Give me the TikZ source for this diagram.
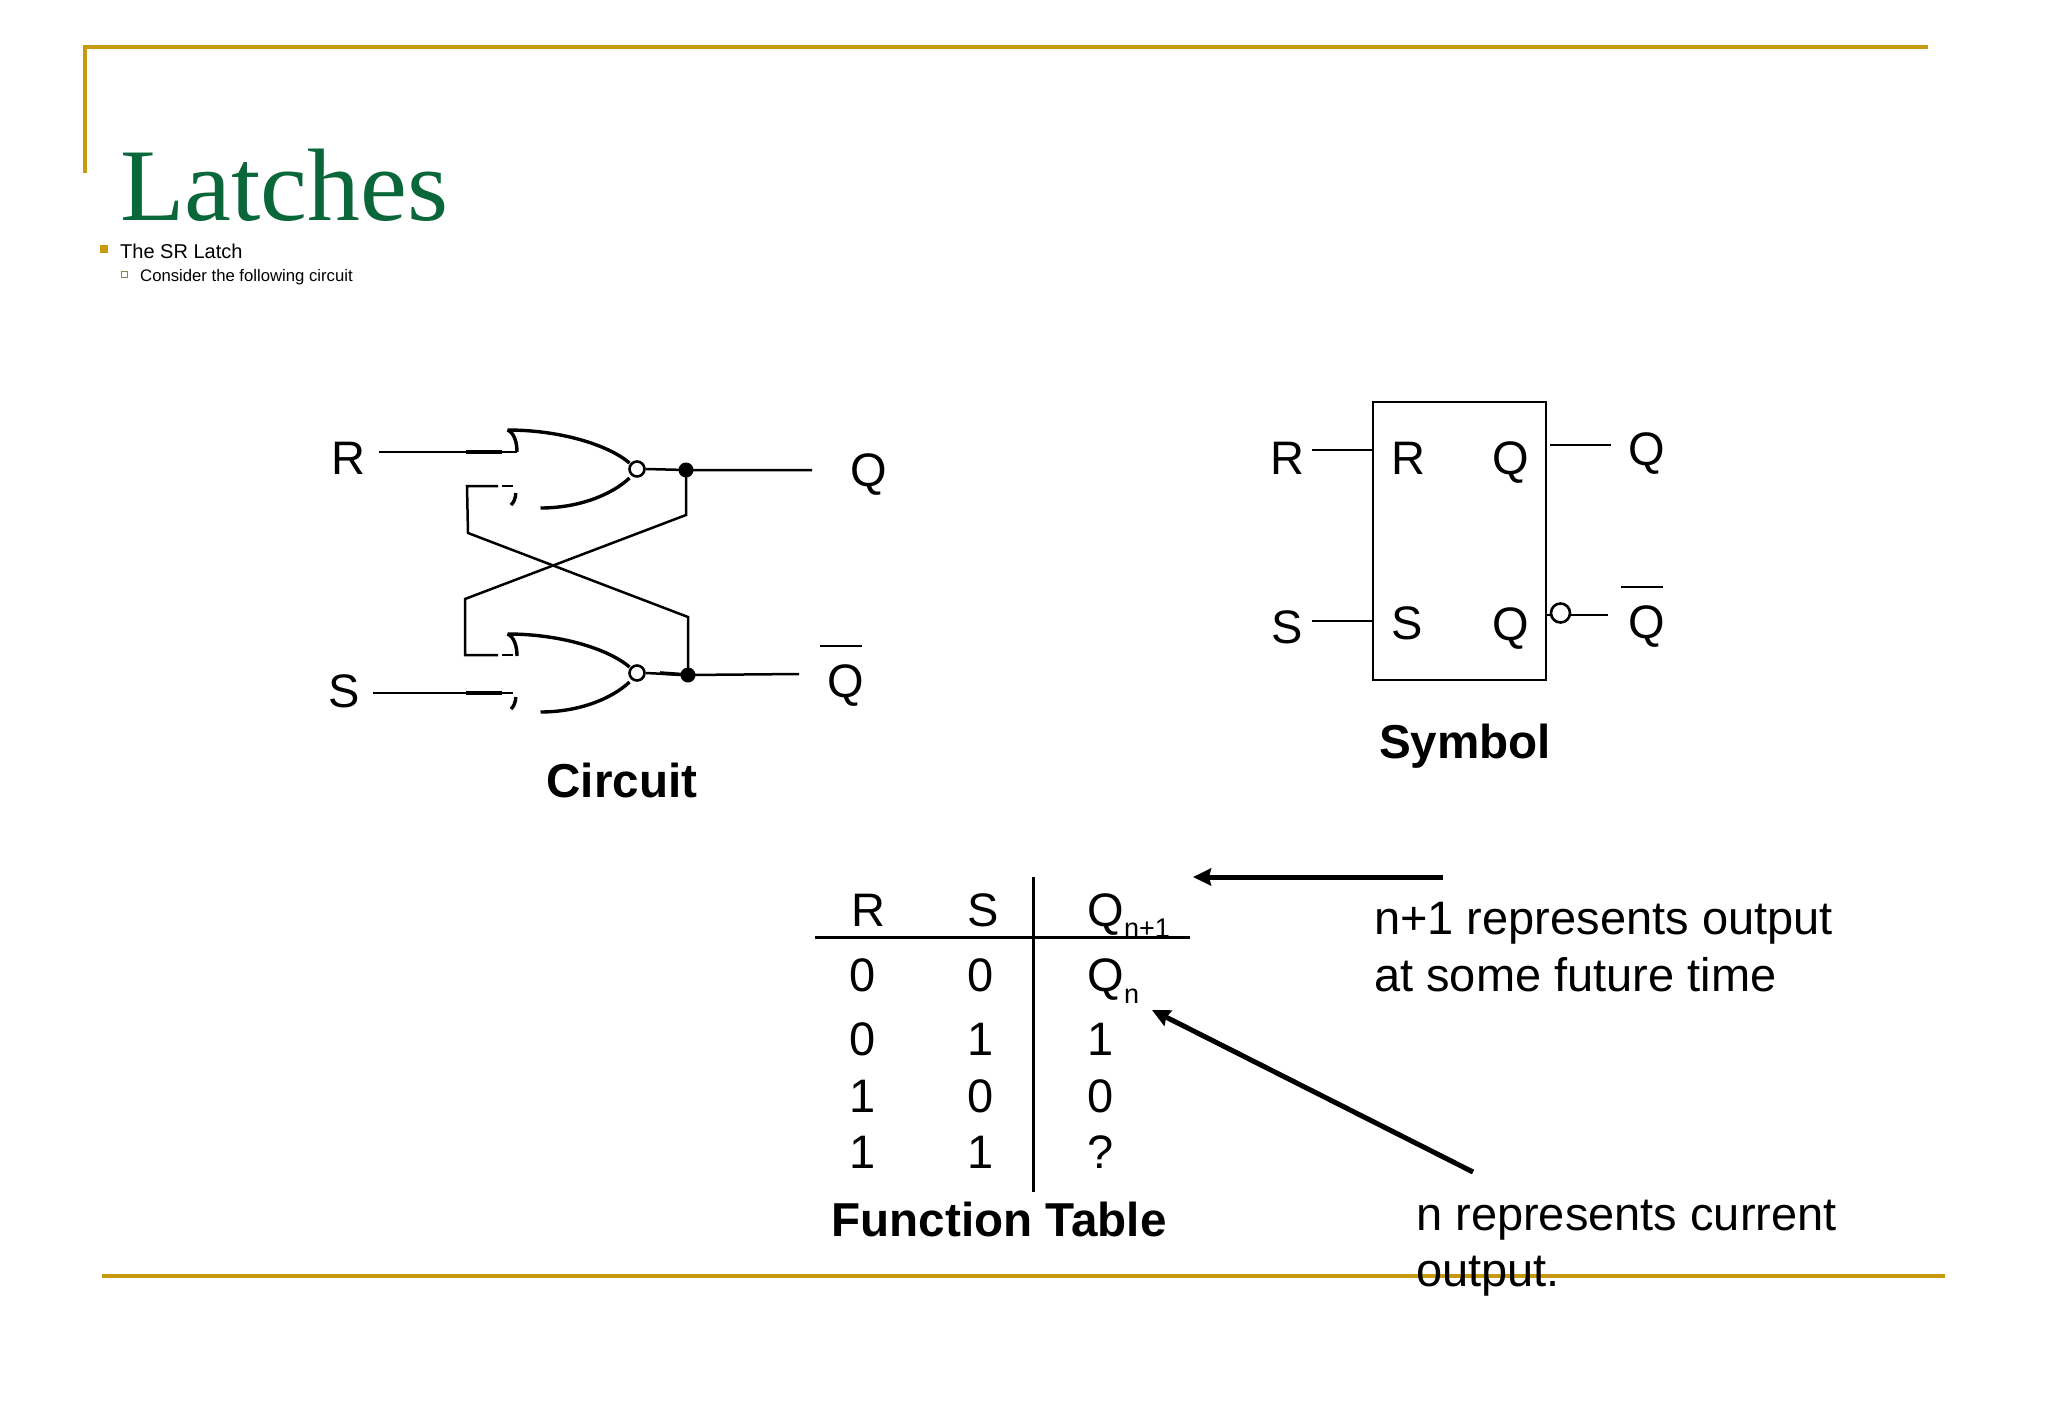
\documentclass[tikz,border=0pt]{standalone}
\usepackage{fontspec}
\setmainfont{Liberation Sans}
\newfontfamily\titlefont[FakeStretch=1.025]{Liberation Serif}
\usetikzlibrary{arrows.meta}
\definecolor{gold}{HTML}{C79A12}
\definecolor{titlegreen}{HTML}{0A673A}
\definecolor{bulletgreen}{HTML}{6E8F5A}
\tikzset{
  lab/.style={anchor=base,inner sep=0pt,font=\fontsize{47}{47}\selectfont},
  labl/.style={lab,anchor=base west},
  blab/.style={lab,font=\fontsize{47.6}{47.6}\selectfont\bfseries},
  subs/.style={anchor=base west,inner sep=0pt,font=\fontsize{27}{27}\selectfont},
  rule/.style={gold,line width=4pt},
  wire/.style={black,line width=2.5pt},
  heavywire/.style={black,line width=3.6pt},
  gatecurve/.style={black,line width=3.4pt},
  bar/.style={black,line width=2.8pt},
  bubble/.style={circle,draw=black,fill=white,line width=2.6pt,minimum size=15pt,inner sep=0pt},
  dot/.style={circle,fill=black,minimum size=15pt,inner sep=0pt},
  tableline/.style={black,line width=3pt},
  bigarrow/.style={black,line width=5pt,-{Stealth[length=18pt,width=17pt,inset=2pt]}},
  norbody/.pic={
    \draw[gatecurve] (0,0) .. controls (53,0) and (101,15) .. (122,33);
    \draw[gatecurve] (122,48) .. controls (104,65) and (71,78) .. (33,78);
    \draw[gatecurve] (0,0) .. controls (7,3) and (9.5,13) .. (9.5,22);
    \draw[gatecurve] (8.3,63) .. controls (8.3,68) and (6,73) .. (3.5,75);
  }
}
\begin{document}
\begin{tikzpicture}[x=1pt,y=-1pt]
\useasboundingbox (0,0) rectangle (2048,1418);
\fill[white] (0,0) rectangle (2048,1418);
% frame
\coordinate (ftl) at (85,47);
\coordinate (ftr) at (1928,47);
\coordinate (fbl) at (85,173);
\coordinate (bl) at (102,1276);
\coordinate (br) at (1945,1276);
\draw[rule] (fbl) -- (ftl) -- (ftr);
\draw[rule] (bl) -- (br);
% heading
\node[anchor=base west,inner sep=0pt,text=titlegreen,font=\fontsize{103}{103}\titlefont] (title) at (120,220) {Latches};
\node[anchor=center,fill=gold,minimum size=7.5pt,inner sep=0pt] (bul1) at (104,249) {};
\node[anchor=base west,inner sep=0pt,font=\fontsize{20}{20}\selectfont] (t1) at (120,258) {The SR Latch};
\node[anchor=center,draw=bulletgreen,line width=0.9pt,minimum size=6pt,inner sep=0pt] (bul2) at (124.5,274.5) {};
\node[anchor=base west,inner sep=0pt,font=\fontsize{16.7}{16.7}\selectfont] (t2) at (140,281) {Consider the following circuit};
% circuit gates
\pic (g1) at (507.5,430) {norbody};
\pic (g2) at (507.5,634) {norbody};
\node[bubble] (b1) at (637,469) {};
\node[bubble] (b2) at (637,673) {};
\node[dot] (j1) at (686,470) {};
\node[dot] (j2) at (688,675) {};
\node[lab] (lR) at (348,474) {R};
\node[lab] (lS) at (344,707) {S};
\node[lab] (lQ) at (869,486) {Q};
\node[lab] (lQb) at (846,697) {Q};
\node[blab] (lC) at (622,797) {Circuit};
\coordinate (rs) at (379,452);
\coordinate (re) at (517,452);
\coordinate (rh1) at (466,452);
\coordinate (rh2) at (502,452);
\coordinate (ss) at (373,693);
\coordinate (se) at (513,693);
\coordinate (sh1) at (466,693);
\coordinate (sh2) at (502,693);
\coordinate (qe) at (812,470);
\coordinate (qbe) at (799,674);
\coordinate (fa1) at (467,486);
\coordinate (fa2) at (498,486);
\coordinate (fa3) at (502,486);
\coordinate (fa4) at (513,486);
\coordinate (fa5) at (468,533);
\coordinate (fa6) at (688,617);
\coordinate (fb1) at (686,515);
\coordinate (fb2) at (465,599);
\coordinate (fb3) at (465,655);
\coordinate (fb4) at (498,655);
\coordinate (fb5) at (502,655);
\coordinate (fb6) at (513,655);
\coordinate (qbar1) at (820,646);
\coordinate (qbar2) at (862,646);
\coordinate (h2) at (660,673);
\draw[wire] (rs) -- (re);
\draw[wire] (ss) -- (se);
\draw[heavywire] (rh1) -- (rh2);
\draw[heavywire] (sh1) -- (sh2);
\draw[wire] (b1.east) -- (j1.center) -- (qe);
\draw[wire] (b2.east) -- (j2.center) -- (qbe);
\draw[heavywire] (h2) -- (j2.center);
\draw[wire] (fa4) -- (fa3);
\draw[wire] (fa2) -- (fa1) -- (fa5) -- (fa6) -- (j2.center);
\draw[wire] (j1.center) -- (fb1) -- (fb2) -- (fb3) -- (fb4);
\draw[wire] (fb5) -- (fb6);
\draw[bar] (qbar1) -- (qbar2);
% symbol
\node[draw=black,line width=2.8pt,minimum width=173pt,minimum height=278pt,inner sep=0pt] (sym) at (1459.5,541) {};
\node[lab] (sRo) at (1287,474) {R};
\node[lab] (sRi) at (1408,474) {R};
\node[lab] (sQi1) at (1511,474) {Q};
\node[lab] (sQo1) at (1647,465) {Q};
\node[lab] (sSo) at (1287,643) {S};
\node[lab] (sSi) at (1407,639) {S};
\node[lab] (sQi2) at (1511,640) {Q};
\node[lab] (sQo2) at (1647,638) {Q};
\node[blab] (lSym) at (1465,758) {Symbol};
\coordinate (w1) at (1312,450);
\coordinate (w1e) at (1373,450);
\coordinate (w2) at (1312,621);
\coordinate (w2e) at (1373,621);
\coordinate (w3) at (1550,445);
\coordinate (w3e) at (1611,445);
\coordinate (w4) at (1546,615);
\coordinate (w4e) at (1608,615);
\coordinate (qbar3) at (1621,587);
\coordinate (qbar4) at (1663,587);
\draw[wire] (w1) -- (w1e);
\draw[wire] (w2) -- (w2e);
\draw[wire] (w3) -- (w3e);
\draw[wire] (w4) -- (w4e);
\node[bubble,minimum size=19pt] (symb) at (1560.5,613) {};
\draw[bar] (qbar3) -- (qbar4);
% table
\coordinate (tv1) at (1033,877);
\coordinate (tv2) at (1033,1192);
\coordinate (th1) at (815,937.5);
\coordinate (th2) at (1190,937.5);
\draw[tableline] (tv1) -- (tv2);
\draw[tableline] (th1) -- (th2);
\node[lab] (hR) at (868,926) {R};
\node[lab] (hS) at (983,926) {S};
\node[labl] (hQ) at (1087,926) {Q};
\node[subs] (hQs) at (1124,937) {n+1};
\node[lab] (a1) at (863,991) {0};
\node[lab] (a2) at (981,991) {0};
\node[labl] (a3) at (1087,991) {Q};
\node[subs] (a3s) at (1124,1003) {n};
\node[lab] (b1t) at (863,1055) {0};
\node[lab] (b2t) at (981,1055) {1};
\node[labl] (b3t) at (1087,1055) {1};
\node[lab] (c1) at (863,1112) {1};
\node[lab] (c2) at (981,1112) {0};
\node[labl] (c3) at (1087,1112) {0};
\node[lab] (d1) at (863,1168) {1};
\node[lab] (d2) at (981,1168) {1};
\node[labl] (d3) at (1087,1168) {?};
\node[blab] (lF) at (999,1236) {Function Table};
% notes
\node[labl] (n1) at (1374,934) {n+1 represents output};
\node[labl] (n2) at (1374,991) {at some future time};
\node[labl] (n3) at (1416,1230) {n represents current};
\node[labl] (n4) at (1416,1286) {output.};
\coordinate (ar1s) at (1443,877);
\coordinate (ar1e) at (1193,877);
\coordinate (ar2s) at (1473,1172);
\coordinate (ar2e) at (1152,1010);
\draw[bigarrow] (ar1s) -- (ar1e);
\draw[bigarrow] (ar2s) -- (ar2e);
\end{tikzpicture}
\end{document}
